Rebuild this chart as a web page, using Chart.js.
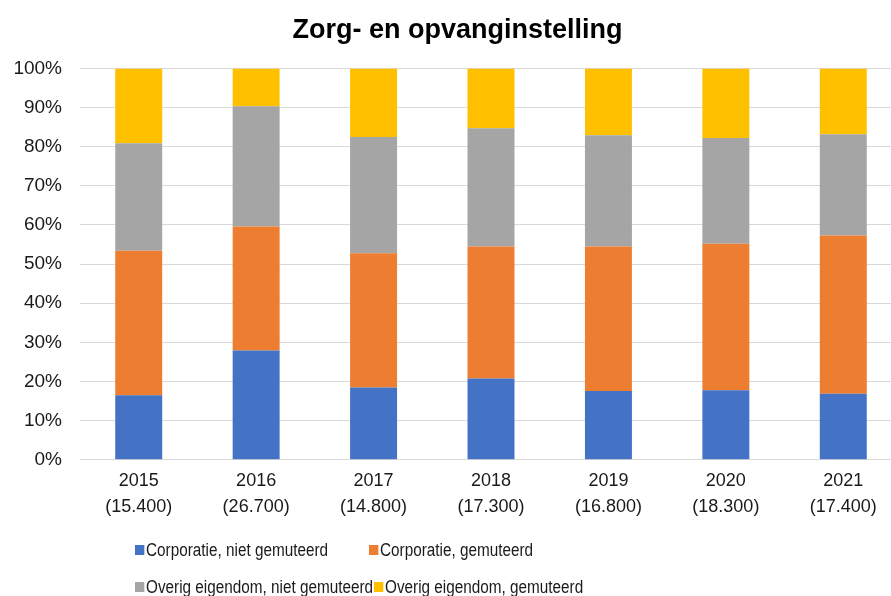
<!DOCTYPE html>
<html>
<head>
<meta charset="utf-8">
<script src="https://cdn.jsdelivr.net/npm/chart.js@4"></script>
<style>
  html, body { margin: 0; padding: 0; background: #fff; overflow: hidden; }
  #wrap { position: relative; width: 891px; height: 596px; overflow: hidden; }
  #chart { position: absolute; left: 0; top: 0; }
  .legend-item { position: absolute; font: 18px 'Liberation Sans', Arial, sans-serif; color: #1a1a1a; white-space: nowrap; line-height: 20px; transform: scaleX(0.85); transform-origin: left center; }
  .legend-item span.box { display: inline-block; width: 11px; height: 10px; margin-right: 2px; vertical-align: 1px; }
</style>
</head>
<body>
<div id="wrap">
  <canvas id="chart" width="902" height="596"></canvas>
  <div id="legend"></div>
</div>
<script>
// Categories
const years = ['2015', '2016', '2017', '2018', '2019', '2020', '2021'];
const totals = ['(15.400)', '(26.700)', '(14.800)', '(17.300)', '(16.800)', '(18.300)', '(17.400)'];

// Series (percent share per year)
const corpNiet = [16.5, 27.9, 18.5, 20.8, 17.6, 17.8, 16.9];
const corpGem = [36.9, 31.7, 34.3, 33.7, 36.9, 37.4, 40.4];
const overigNiet = [27.5, 30.7, 29.7, 30.2, 28.4, 27.0, 25.9];
const overigGem = [19.1, 9.7, 17.5, 15.3, 17.1, 17.8, 16.8];

const seriesNames = ['Corporatie, niet gemuteerd', 'Corporatie, gemuteerd', 'Overig eigendom, niet gemuteerd', 'Overig eigendom, gemuteerd'];
const seriesColors = ['#4472C4', '#ED7D31', '#A5A5A5', '#FFC000'];

Chart.defaults.font.family = "'Liberation Sans', Arial, sans-serif";
Chart.defaults.color = '#1a1a1a';

const labels = years.map((y, i) => [y, totals[i]]);
const seriesData = [corpNiet, corpGem, overigNiet, overigGem];

const ctx = document.getElementById('chart').getContext('2d');
const chart = new Chart(ctx, {
    type: 'bar',
    data: {
        labels: labels,
        datasets: seriesData.map((d, i) => ({
            label: seriesNames[i],
            data: d,
            backgroundColor: seriesColors[i],
            borderWidth: 0,
            barPercentage: 0.4,
            categoryPercentage: 1
        }))
    },
    options: {
        responsive: false,
        animation: false,
        layout: { padding: { left: 13, right: 0, top: 0, bottom: 68 } },
        plugins: {
            legend: { display: false },
            tooltip: { enabled: false },
            title: {
                display: true,
                text: 'Zorg- en opvanginstelling',
                color: '#000',
                font: { size: 27, weight: 'bold' },
                padding: { top: 14, bottom: 22 }
            }
        },
        scales: {
            x: {
                stacked: true,
                grid: { display: false, drawTicks: false },
                border: { color: '#d9d9d9', width: 1 },
                ticks: { font: { size: 18, lineHeight: 1.45 }, padding: 8, maxRotation: 0, color: '#1a1a1a' }
            },
            y: {
                stacked: true,
                min: 0,
                max: 100,
                grid: { color: '#d9d9d9', drawTicks: false, lineWidth: 1 },
                border: { display: false },
                afterFit: scale => { scale.width = 67; },
                ticks: {
                    stepSize: 10,
                    padding: 18,
                    font: { size: 19 },
                    color: '#1a1a1a',
                    callback: v => v + '%'
                }
            }
        }
    }
});

// Legend in two columns, below the chart
const legendPos = [[135, 540], [369, 540], [135, 577], [374, 577]];
const legendEl = document.getElementById('legend');
seriesNames.forEach((name, i) => {
    const item = document.createElement('div');
    item.className = 'legend-item';
    item.style.left = legendPos[i][0] + 'px';
    item.style.top = legendPos[i][1] + 'px';
    item.innerHTML = '<span class="box" style="background:' + seriesColors[i] + '"></span>' + name;
    legendEl.appendChild(item);
});
</script>
</body>
</html>
